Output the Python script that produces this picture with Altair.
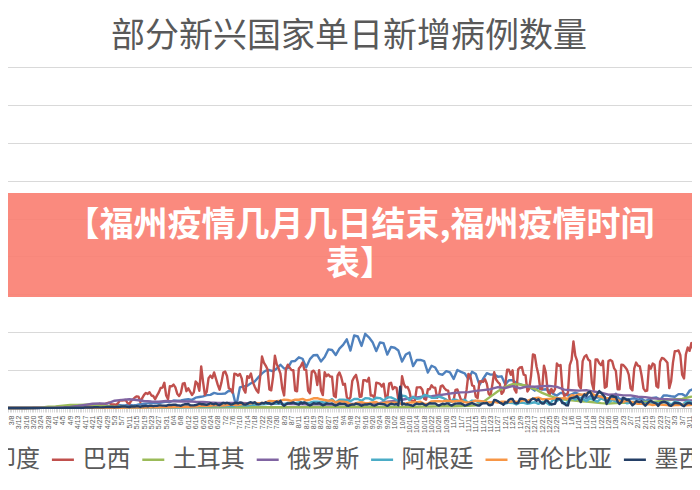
import altair as alt
import pandas as pd

TITLE = "部分新兴国家单日新增病例数量"
BANNER_LINES = ["【福州疫情几月几日结束,福州疫情时间", "表】"]

COUNTRIES = ["印度", "巴西", "土耳其", "俄罗斯", "阿根廷", "哥伦比亚", "墨西哥"]
COLORS = ["#4F81BD", "#C0504D", "#9BBB59", "#8064A2", "#4BACC6", "#F79646", "#243F66"]

# day index 0 = 2020-03-04 ; values in thousands of new cases
# Brazil: daily
BRAZIL = [
    0, 0, 0, 0, 0, 0, 0,
    0, 0, 0, 0, 0, 0, 0.1,
    0.1, 0.2, 0.3, 0.3, 0.3, 0.3, 0.3,
    0.2, 0.5, 0.5, 0.5, 0.4, 0.3, 1.1,
    1.1, 1.2, 1.1, 1.2, 0.9, 0.8, 1.7,
    2.2, 2.0, 1.8, 1.1, 1.3, 1.3, 1.8,
    3.1, 3.3, 3.7, 2.9, 1.9, 2.1, 1.9,
    2.7, 3.7, 4.0, 5.5, 3.4, 4.6, 5.4,
    6.3, 7.2, 5.0, 4.6, 4.6, 4.1, 6.9,
    10.5, 9.9, 10.2, 10.6, 6.6, 5.6, 9.3,
    11.4, 13.9, 15.3, 14.9, 7.9, 13.1, 17.4,
    19.9, 18.5, 20.8, 16.5, 15.8, 11.7, 16.3,
    20.6, 26.4, 26.9, 33.3, 16.4, 11.6, 28.9,
    28.6, 30.9, 27.1, 18.9, 15.7, 20.0, 32.1,
    32.9, 22.2, 25.9, 21.7, 17.1, 20.6, 34.9,
    32.2, 22.8, 54.8, 34.7, 17.5, 21.4, 39.4,
    42.7, 39.5, 46.9, 38.7, 30.5, 24.1, 33.8,
    46.7, 48.1, 42.2, 26.1, 24.8, 20.2, 45.3,
    44.6, 42.6, 45.0, 39.0, 24.8, 20.3, 41.9,
    39.9, 45.4, 34.2, 28.5, 23.5, 20.3, 41.0,
    67.9, 59.9, 55.9, 51.1, 24.6, 23.3, 40.8,
    69.1, 57.8, 52.4, 45.4, 25.8, 16.6, 51.6,
    57.2, 53.1, 50.2, 49.9, 23.0, 22.0, 52.2,
    55.2, 60.1, 50.6, 50.0, 23.1, 19.4, 47.8,
    49.3, 45.3, 30.4, 50.0, 23.4, 17.1, 47.1,
    42.0, 44.2, 41.4, 41.3, 16.2, 14.3, 42.7,
    46.9, 40.6, 30.6, 31.9, 14.5, 10.3, 14.3,
    35.8, 40.6, 43.7, 33.5, 14.8, 15.2, 36.7,
    36.8, 35.0, 39.8, 16.4, 16.4, 13.4, 33.5,
    32.8, 31.9, 28.4, 32.1, 14.3, 13.2, 32.1,
    33.4, 24.8, 27.7, 26.7, 10.6, 11.0, 41.9,
    31.6, 27.3, 27.7, 22.1, 10.2, 8.4, 10.2,
    27.2, 27.2, 27.4, 24.1, 12.3, 10.9, 24.8,
    24.8, 30.0, 26.9, 26.9, 13.5, 15.7, 28.6,
    29.8, 26.1, 23.6, 23.0, 9.0, 8.5, 10.2,
    23.9, 24.5, 17.6, 10.3, 10.6, 10.0, 23.9,
    45.0, 43.0, 30.0, 29.0, 15.0, 13.0, 35.0,
    35.3, 34.5, 38.0, 32.0, 18.6, 16.2, 31.1,
    47.2, 37.6, 34.3, 32.0, 18.6, 21.6, 31.1,
    50.4, 50.4, 43.7, 49.8, 24.5, 20.4, 51.1,
    53.5, 54.0, 43.9, 43.0, 21.8, 25.2, 42.9,
    70.6, 69.8, 54.4, 43.9, 25.0, 25.0, 55.9,
    46.7, 22.9, 17.3, 25.2, 20.5, 25.0, 58.7,
    55.6, 56.8, 24.6, 15.8, 17.3, 20.0, 56.6,
    63.5, 87.8, 69.0, 62.3, 29.8, 25.8, 61.8,
    67.8, 69.8, 64.0, 62.0, 33.0, 23.7, 64.0,
    64.0, 59.1, 56.5, 62.3, 26.8, 28.3, 61.9,
    63.5, 61.8, 52.7, 49.0, 24.6, 24.6, 57.0,
    56.8, 54.0, 50.9, 44.0, 26.0, 23.3, 52.4,
    60.0, 56.0, 55.0, 42.6, 26.0, 22.4, 23.0,
    56.1, 51.9, 58.6, 57.0, 29.1, 27.1, 61.0,
    66.1, 65.2, 62.7, 59.6, 26.2, 35.3, 59.9,
    75.0, 75.1, 76.0, 69.6, 43.8, 38.9, 70.8,
    79.9, 75.4, 85.7, 77.1, 44.3, 37.0, 84.0,
    90.8, 86.9, 85.3,
]

# Mexico: daily
MEXICO = [
    0, 0, 0, 0, 0, 0, 0,
    0, 0, 0, 0, 0, 0, 0,
    0, 0, 0, 0, 0.1, 0, 0.1,
    0.1, 0.1, 0.1, 0.1, 0.1, 0.1, 0.2,
    0.2, 0.2, 0.2, 0.2, 0.2, 0.3, 0.3,
    0.4, 0.4, 0.4, 0.4, 0.4, 0.4, 0.3,
    0.5, 0.4, 0.6, 0.6, 0.7, 0.8, 0.7,
    1.0, 0.9, 1.0, 0.8, 0.8, 0.9, 1.2,
    1.4, 1.5, 1.4, 1.3, 1.0, 1.4, 1.4,
    1.6, 1.9, 2.0, 1.9, 1.5, 1.3, 2.0,
    2.0, 1.9, 2.4, 2.1, 1.4, 2.4, 2.4,
    3.0, 2.2, 2.9, 3.0, 2.4, 2.8, 2.8,
    3.5, 3.4, 3.2, 3.2, 2.9, 3.9, 3.9,
    3.9, 4.4, 4.3, 3.6, 3.5, 2.9, 4.2,
    4.9, 4.9, 5.2, 3.5, 3.4, 3.4, 3.9,
    4.6, 5.7, 5.0, 5.0, 4.6, 4.1, 5.0,
    6.3, 5.4, 5.0, 6.1, 4.4, 3.8, 5.4,
    6.7, 6.0, 6.9, 6.1, 4.7, 4.9, 6.3,
    6.9, 6.0, 7.3, 6.9, 4.9, 4.5, 5.4,
    7.0, 7.6, 6.4, 7.6, 5.3, 4.7, 5.2,
    6.8, 6.0, 7.5, 6.3, 6.2, 4.8, 5.8,
    7.2, 8.5, 6.6, 9.6, 5.0, 3.0, 4.8,
    6.1, 6.1, 6.6, 7.4, 6.0, 5.1, 4.4,
    7.4, 5.9, 7.4, 6.3, 4.3, 3.4, 4.4,
    6.4, 5.8, 5.9, 6.5, 5.1, 3.5, 4.4,
    6.0, 5.8, 5.8, 5.9, 4.1, 3.3, 4.2,
    6.0, 5.6, 5.5, 5.4, 3.3, 2.9, 4.2,
    4.6, 4.4, 5.9, 5.2, 4.4, 3.0, 4.2,
    4.8, 4.6, 5.1, 5.3, 3.7, 3.1, 4.0,
    5.4, 5.4, 5.2, 5.0, 4.0, 2.8, 4.4,
    5.6, 5.1, 4.5, 5.4, 3.7, 28.1, 4.5,
    5.9, 4.4, 4.9, 4.1, 3.6, 2.8, 4.8,
    5.9, 5.1, 5.3, 5.9, 4.5, 3.3, 5.0,
    6.3, 6.0, 6.0, 6.1, 4.2, 3.2, 4.4,
    5.6, 5.0, 5.9, 6.0, 4.1, 3.3, 4.8,
    5.8, 5.9, 6.1, 5.9, 4.9, 3.1, 3.8,
    4.9, 5.9, 6.6, 5.3, 4.5, 3.3, 3.3,
    5.3, 6.2, 6.1, 6.8, 4.0, 3.7, 4.6,
    10.7, 10.3, 8.9, 7.2, 6.1, 4.3, 7.5,
    7.1, 10.9, 11.9, 11.9, 7.2, 6.1, 6.9,
    12.3, 12.3, 11.8, 10.9, 7.5, 7.5, 11.0,
    12.5, 11.7, 9.6, 11.5, 8.1, 5.9, 6.0,
    10.0, 9.4, 6.3, 4.6, 5.2, 5.6, 11.9,
    12.1, 11.0, 6.4, 6.2, 3.7, 3.4, 12.3,
    13.1, 13.8, 14.4, 15.6, 11.4, 7.8, 14.6,
    18.0, 16.0, 20.5, 21.4, 16.7, 11.0, 13.8,
    18.7, 22.3, 20.0, 17.6, 14.4, 5.3, 10.2,
    14.6, 16.0, 14.9, 14.6, 8.3, 5.4, 7.7,
    13.5, 12.1, 10.6, 10.9, 6.9, 3.6, 5.4,
    9.1, 8.3, 8.0, 9.0, 5.7, 3.0, 5.9,
    8.2, 9.6, 7.8, 6.9, 5.8, 2.8, 6.4,
    7.7, 8.4, 7.6, 6.2, 3.4, 2.8, 4.8,
    7.0, 6.6, 6.3, 5.7, 3.5, 2.4, 4.9,
    6.7, 6.6, 5.9, 5.4, 2.7, 2.1, 2.9,
    5.3, 5.2, 4.6,
]

# India, Argentina, Colombia: every 2 days
INDIA = [
    0, 0, 0, 0, 0, 0, 0, 0.1, 0.1, 0.1, 0.1, 0.1, 0.2, 0.2,
    0.4, 0.5, 0.6, 0.7, 0.9, 0.8, 1.0, 1.1, 1.2, 1.5, 1.3, 1.5, 1.6, 1.9, 1.8,
    2.4, 2.6, 3.9, 3.3, 3.6, 4.3, 3.5, 3.9, 4.9, 5.6, 6.1, 6.6, 6.5, 6.4, 7.5,
    8.4, 8.0, 9.9, 9.5, 9.9, 10.9, 11.5, 10.7, 13.6, 14.5, 15.4, 17.0, 17.3, 19.9, 18.6,
    18.6, 19.1, 22.8, 22.3, 2.0, 27.1, 28.6, 29.4, 32.7, 34.9, 40.4, 45.7, 49.3, 50.1, 48.5, 52.1,
    57.1, 52.1, 52.5, 61.5, 62.1, 66.9, 65.0, 53.6, 64.5, 69.7, 69.9, 61.4, 67.2, 77.3, 76.5,
    69.9, 78.4, 83.3, 90.6, 75.8, 95.7, 94.4, 81.9, 97.9, 93.3, 86.9, 75.1, 86.5, 85.4, 70.6,
    80.5, 79.5, 75.8, 61.3, 70.5, 73.3, 55.3, 63.5, 63.4, 61.9, 46.8, 55.8, 53.4, 45.1, 43.9, 48.6,
    46.9, 38.3, 50.2, 47.6, 45.7, 38.1, 47.9, 44.9, 30.5, 38.6, 45.9, 44.1, 44.4, 41.3, 41.8,
    31.1, 36.6, 36.6, 32.9, 31.5, 29.4, 30.0, 26.4, 22.9, 26.6, 24.3, 24.7, 23.1, 18.7, 16.4,
    20.0, 19.1, 16.5, 18.1, 20.3, 18.2, 16.3, 12.6, 15.6, 15.1, 13.8, 15.2, 14.3, 9.1, 12.7, 18.9,
    11.4, 12.9, 11.7, 12.0, 12.9, 11.1, 12.2, 9.1, 11.6, 13.2, 13.9, 10.6, 16.7, 16.4, 15.5,
    14.9, 18.3, 18.3, 15.4, 22.8, 24.9, 26.3, 35.9,
]

ARGENTINA = [
    0, 0, 0, 0, 0, 0, 0, 0, 0, 0.1, 0.1, 0.1, 0.1, 0.1,
    0.1, 0.1, 0.1, 0.1, 0.1, 0.1, 0.1, 0.1, 0.1, 0.1, 0.1, 0.1, 0.1, 0.1, 0.1,
    0.1, 0.1, 0.2, 0.2, 0.2, 0.3, 0.2, 0.3, 0.4, 0.5, 0.6, 0.7, 0.7, 0.7, 0.8,
    0.8, 0.6, 0.9, 0.9, 1.2, 1.4, 1.5, 1.4, 2.0, 2.1, 2.1, 2.6, 2.3, 2.6, 2.9,
    2.3, 2.6, 2.5, 2.4, 2.9, 3.6, 3.4, 3.1, 4.3, 4.2, 4.8, 5.0, 5.3, 5.9, 6.1, 6.0,
    5.9, 4.8, 6.8, 7.1, 6.5, 7.5, 7.2, 6.8, 7.1, 8.2, 8.3, 8.0, 7.1, 9.2, 11.7,
    7.2, 10.9, 10.9, 10.6, 9.0, 12.0, 11.9, 9.6, 13.0, 12.7, 10.4, 13.5, 13.1, 9.8, 14.0,
    14.0, 11.9, 9.3, 16.4, 15.5, 10.5, 14.9, 12.2, 12.9, 17.1, 16.3, 13.6, 13.3, 15.0, 13.5, 11.0,
    8.0, 11.5, 10.2, 8.5, 11.0, 6.5, 9.8, 9.2, 7.0, 8.4, 6.5, 6.0, 8.5, 8.6, 6.1,
    5.7, 7.0, 6.6, 4.7, 7.1, 6.7, 5.5, 6.6, 7.6, 5.4, 7.9, 7.6, 4.2, 11.3, 9.1,
    12.6, 5.2, 7.8, 13.8, 11.1, 13.8, 11.8, 9.2, 12.7, 10.6, 8.5, 12.6, 10.5, 7.1, 10.3, 8.6,
    8.3, 9.6, 6.3, 7.2, 8.3, 5.9, 6.9, 6.0, 5.9, 7.4, 6.6, 5.3, 7.4, 7.4, 4.5,
    8.3, 7.4, 4.1, 8.0, 8.5, 5.1, 8.9, 9.9,
]

COLOMBIA = [
    0, 0, 0, 0, 0, 0, 0, 0, 0, 0.1, 0.1, 0.1, 0.1, 0.1,
    0.1, 0.1, 0.1, 0.1, 0.1, 0.1, 0.1, 0.1, 0.1, 0.2, 0.2, 0.1, 0.3, 0.2, 0.2,
    0.3, 0.2, 0.3, 0.4, 0.5, 0.5, 0.5, 0.5, 0.6, 0.6, 0.8, 0.9, 0.8, 0.9, 1.3,
    1.2, 1.0, 1.3, 1.5, 1.5, 1.7, 1.6, 2.0, 2.0, 2.9, 3.0, 3.1, 3.0, 3.9, 3.5,
    3.2, 3.6, 4.2, 4.4, 3.7, 4.5, 5.3, 5.1, 6.1, 7.0, 5.9, 6.6, 7.0, 9.4, 9.0, 9.1,
    9.7, 11.0, 10.6, 9.3, 11.0, 10.9, 12.1, 10.1, 11.1, 12.8, 13.1, 11.5, 10.6, 9.6, 10.0,
    7.3, 8.6, 8.4, 7.7, 5.0, 5.3, 7.1, 7.7, 6.3, 6.7, 7.4, 8.0, 5.3, 6.6, 7.3,
    7.1, 7.1, 6.8, 5.0, 6.0, 7.2, 7.3, 7.8, 8.2, 5.5, 5.5, 8.8, 9.0, 9.1, 8.8, 9.6,
    9.1, 8.6, 9.3, 9.2, 7.8, 7.0, 8.0, 9.6, 9.2, 8.8, 7.2, 7.5, 8.1, 7.0, 8.3,
    8.4, 7.8, 9.2, 8.1, 8.8, 10.3, 9.5, 11.5, 13.0, 13.6, 11.6, 11.5, 12.0, 12.4, 13.2,
    12.4, 13.2, 12.1, 17.0, 16.0, 18.0, 17.5, 19.1, 21.0, 17.5, 16.0, 14.9, 13.0, 13.0, 11.7, 11.5,
    9.3, 8.3, 9.4, 8.4, 6.9, 5.4, 5.6, 5.0, 5.1, 3.9, 4.8, 4.6, 4.1, 4.0, 3.1,
    4.0, 3.8, 4.5, 3.7, 3.9, 4.5, 4.5, 5.1,
]

# Turkey, Russia: every 4 days
TURKEY = [
    0, 0, 0, 0, 0.2, 0.3, 1.7, 2.1, 3.1, 4.1, 4.1, 4.4, 4.6, 2.9, 2.4, 1.7,
    1.6, 1.1, 1.7, 1.0, 1.1, 1.2, 0.8, 0.9, 1.0, 1.5, 1.4, 1.2, 1.5, 1.2, 1.2, 1.1,
    1.0, 1.0, 0.9, 0.9, 0.9, 1.0, 1.0, 1.1, 1.2, 1.2, 1.3, 1.3, 1.5, 1.5, 1.6, 1.7,
    1.7, 1.7, 1.8, 1.5, 1.4, 1.5, 1.5, 1.6, 1.7, 1.8, 2.0, 2.2, 2.3, 2.3, 2.7, 3.0,
    3.5, 8.0, 15.0, 22.0, 28.0, 31.5, 31.0, 29.0, 25.0, 20.0, 16.0, 13.0, 11.0, 10.0, 9.0, 8.5,
    7.5, 6.5, 6.0, 6.5, 6.8, 7.0, 7.5, 8.0, 8.0, 8.9, 10.0, 11.5, 12.0, 14.5, 16.0,
]

RUSSIA = [
    0, 0, 0, 0, 0, 0.1, 0.2, 0.4, 1.0, 1.5, 2.6, 4.1, 5.6, 5.9, 5.8, 9.6,
    10.7, 11.6, 10.6, 9.3, 8.6, 8.3, 9.3, 8.8, 8.6, 8.8, 8.2, 7.9, 7.2, 6.8, 6.7, 6.7,
    6.6, 6.4, 6.2, 5.8, 5.8, 5.5, 5.4, 5.2, 5.1, 5.0, 4.8, 4.9, 4.7, 4.7, 5.2, 5.3,
    5.4, 5.7, 6.2, 6.6, 8.2, 9.4, 10.9, 12.8, 13.9, 15.2, 15.7, 16.9, 18.3, 19.8, 20.6, 20.9,
    22.6, 23.6, 24.8, 27.5, 26.4, 28.8, 26.1, 28.6, 28.0, 28.9, 29.2, 27.8, 24.2, 23.5, 22.9, 23.6,
    21.7, 20.2, 17.5, 18.0, 16.6, 16.7, 14.8, 14.4, 12.8, 12.0, 11.5, 11.0, 10.6, 10.0, 9.8,
]

SERIES = {
    "印度": (INDIA, 2),
    "巴西": (BRAZIL, 1),
    "土耳其": (TURKEY, 4),
    "俄罗斯": (RUSSIA, 4),
    "阿根廷": (ARGENTINA, 2),
    "哥伦比亚": (COLOMBIA, 2),
    "墨西哥": (MEXICO, 1),
}

rows = []
for name, (vals, step) in SERIES.items():
    for k, v in enumerate(vals):
        rows.append({"i": k * step, "country": name, "v": v})
df = pd.DataFrame(rows)

X_DOMAIN = [0, 375.5]
TICK_DAYS = list(range(0, 376))
GRID_VALUES = [50, 100, 150, 200, 250, 300, 350, 400, 450]

x_enc = alt.X(
    "i:Q",
    scale=alt.Scale(domain=X_DOMAIN, nice=False, zero=False),
    axis=alt.Axis(
        values=TICK_DAYS,
        labelExpr="datum.value % 4 == 0 ? timeFormat(datetime(2020, 2, 4 + datum.value), '%-m/%-d') : ''",
        labelAngle=270,
        labelFontSize=7,
        labelFont="Liberation Sans",
        labelColor="#595959",
        labelOverlap=False,
        labelPadding=3,
        labelBound=False,
        labelFlush=False,
        tickSize=4,
        tickColor="#D9D9D9",
        domainColor="#BFBFBF",
        grid=False,
        title=None,
    ),
)
y_enc = alt.Y(
    "v:Q",
    scale=alt.Scale(domain=[0, 450], nice=False),
    axis=alt.Axis(
        values=GRID_VALUES, labels=False, ticks=False, domain=False,
        title=None, gridColor="#D9D9D9", gridWidth=1,
    ),
)
color_enc = alt.Color(
    "country:N",
    scale=alt.Scale(domain=COUNTRIES, range=COLORS),
    legend=alt.Legend(
        orient="none", legendX=-44, legendY=380, direction="horizontal",
        symbolType="stroke", symbolSize=484, symbolStrokeWidth=2.5,
        labelFontSize=24, labelFont="Noto Sans CJK SC", labelColor="#595959",
        labelOffset=7, columnPadding=6.4, title=None, padding=0, labelLimit=300,
    ),
)

layers = []
for name in COUNTRIES:
    layers.append(
        alt.Chart(df)
        .transform_filter(alt.datum.country == name)
        .mark_line(strokeWidth=2.4, strokeJoin="round")
        .encode(x=x_enc, y=y_enc, color=color_enc)
    )

one = pd.DataFrame({"k": [0]})
banner = alt.Chart(one).mark_rect(color="#FA8073", opacity=0.92).encode(
    x=alt.value(-10), x2=alt.value(710), y=alt.value(126), y2=alt.value(230)
)
banner_text = alt.Chart(one).mark_text(
    text=BANNER_LINES, font="Noto Sans CJK SC", fontSize=34, fontWeight="bold",
    color="white", align="center", baseline="middle", lineHeight=39,
).encode(x=alt.value(356), y=alt.value(159))
title_t = alt.Chart(one).mark_text(
    text=TITLE, font="Noto Sans CJK SC", fontSize=34, color="#595959",
    align="center", baseline="middle",
).encode(x=alt.value(345), y=alt.value(-30))

# svg is 684 px wide (fits the page body); plot edges pushed 4 px outside on both sides
chart = (
    alt.layer(*layers, banner, banner_text, title_t)
    .properties(
        width=692, height=341,
        autosize=alt.AutoSizeParams(type="none"),
        padding={"left": -4, "top": 59, "right": -4, "bottom": 68},
    )
    .configure_view(stroke=None, strokeWidth=0)
    .configure_axisY(domain=False)
    .configure(background="white")
)

chart.save("out.html", embed_options={"renderer": "svg", "actions": False})
